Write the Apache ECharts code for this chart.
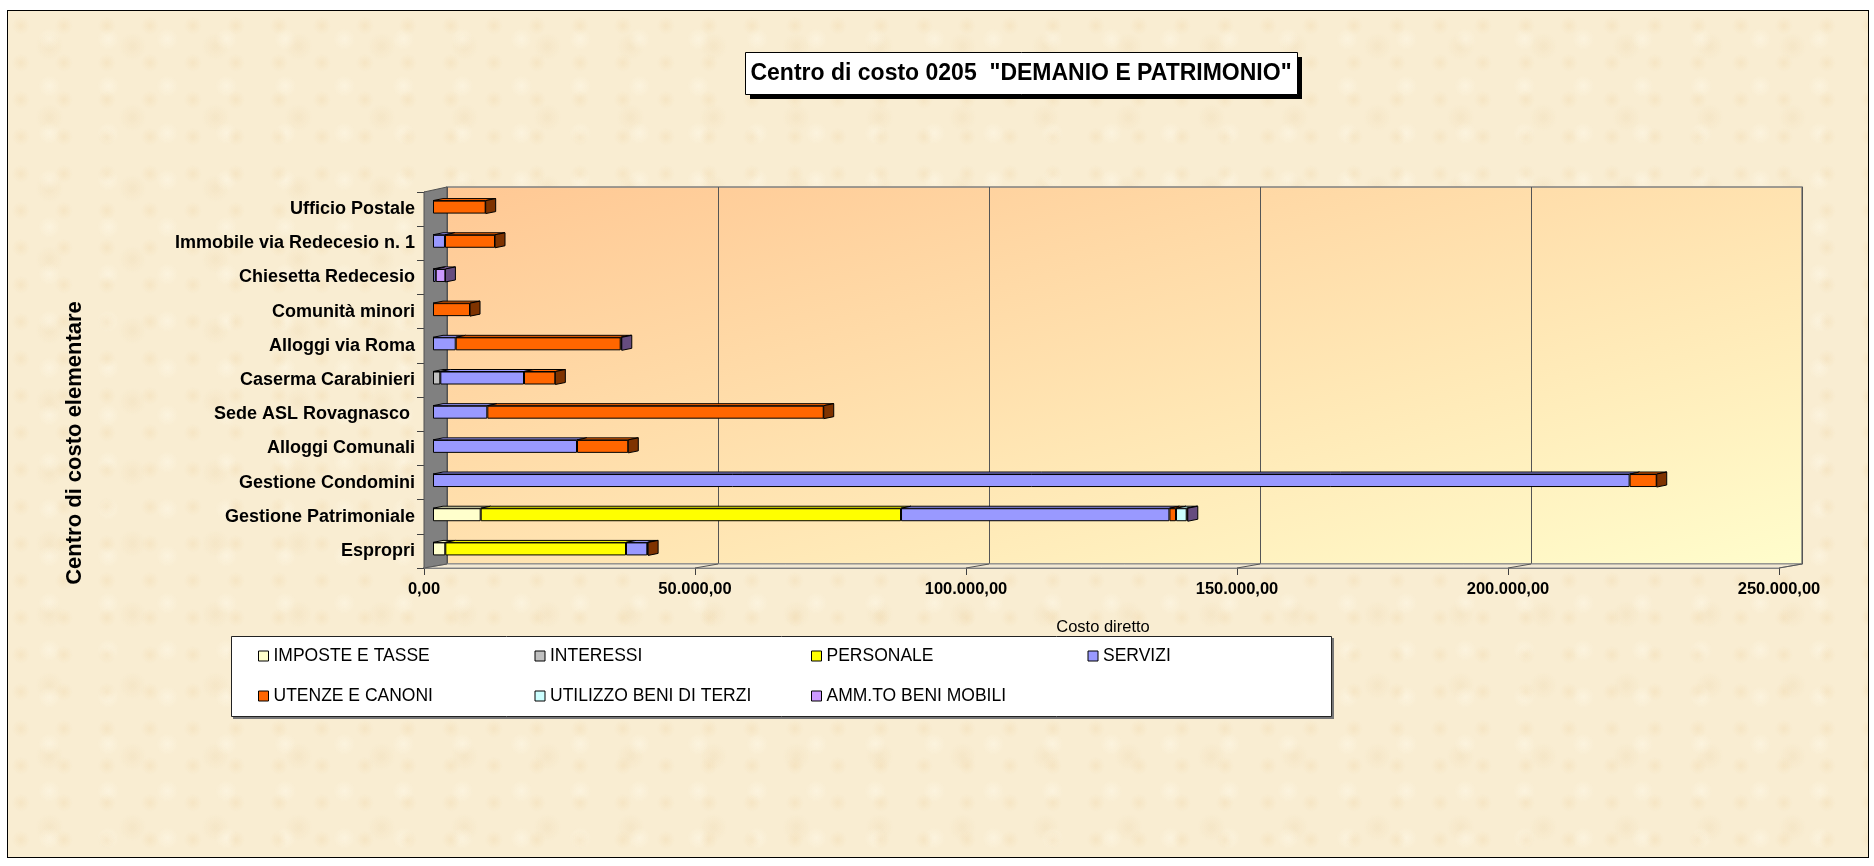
<!DOCTYPE html>
<html>
<head>
<meta charset="utf-8">
<script src="https://cdn.jsdelivr.net/npm/echarts@6/dist/echarts.min.js"></script>
<style>
  html, body { margin: 0; padding: 0; background: #fff; }
  /* cornice con sfondo "pergamena" */
  #frame { position: absolute; left: 7px; top: 10px; width: 1860px; height: 846px;
           border: 1px solid #000; background-color: #f9edd2;
           background-image:
             radial-gradient(circle at 30% 40%, rgba(240,215,170,0.35) 0, rgba(240,215,170,0) 9px),
             radial-gradient(circle at 70% 60%, rgba(255,250,235,0.45) 0, rgba(255,250,235,0) 11px),
             radial-gradient(circle at 50% 50%, rgba(235,210,165,0.25) 0, rgba(235,210,165,0) 14px);
           background-size: 43px 37px, 59px 47px, 83px 71px; }
  #main { position: absolute; left: 0; top: 0; width: 1874px; height: 866px; }
</style>
</head>
<body>
<div id="frame"></div>
<div id="main"></div>
<script>
// categorie dal basso verso l'alto (ordine Excel)
const categories = [
  'Espropri', 'Gestione Patrimoniale', 'Gestione Condomini', 'Alloggi Comunali',
  'Sede ASL Rovagnasco ', 'Caserma Carabinieri', 'Alloggi via Roma', 'Comunità minori',
  'Chiesetta Redecesio', 'Immobile via Redecesio n. 1', 'Ufficio Postale'
];

// valori (euro)
const imposte   = [2270, 8800, 0, 0, 0, 0, 0, 0, 0, 0, 0];
const interessi = [0, 0, 0, 0, 0, 1350, 0, 0, 0, 0, 0];
const personale = [33340, 77550, 0, 0, 0, 0, 0, 0, 0, 0, 0];
const servizi   = [3930, 49520, 220780, 26570, 10020, 15440, 4190, 0, 500, 2210, 0];
const utenze    = [150, 1220, 5000, 9460, 62070, 5780, 30440, 6830, 0, 9230, 9720];
const utilizzo  = [0, 1970, 0, 0, 0, 0, 0, 0, 0, 0, 0];
const ammto     = [0, 200, 0, 0, 0, 0, 200, 0, 1790, 0, 0];

const xTicks = [0, 50000, 100000, 150000, 200000, 250000];

const seriesList = [
  { name: 'IMPOSTE E TASSE',        values: imposte,   color: '#FFFFCC' },
  { name: 'INTERESSI',              values: interessi, color: '#C0C0C0' },
  { name: 'PERSONALE',              values: personale, color: '#FFFF00' },
  { name: 'SERVIZI',                values: servizi,   color: '#9999FF' },
  { name: 'UTENZE E CANONI',        values: utenze,    color: '#FF6600' },
  { name: 'UTILIZZO BENI DI TERZI', values: utilizzo,  color: '#CCFFFF' },
  { name: 'AMM.TO BENI MOBILI',     values: ammto,     color: '#CC99FF' }
];

// colore del lato (faccia in ombra) = metà luminosità
function darker(hex) {
  const n = parseInt(hex.slice(1), 16);
  const r = ((n >> 16) & 255) >> 1, g = ((n >> 8) & 255) >> 1, b = (n & 255) >> 1;
  return 'rgb(' + r + ',' + g + ',' + b + ')';
}

// formato italiano 250.000,00
function fmtIt(v) {
  return String(Math.round(v)).replace(/\B(?=(\d{3})+(?!\d))/g, '.') + ',00';
}

const FONT = 'Liberation Sans, Arial, sans-serif';

// piani della finta prospettiva 3D
const BACK  = { left: 447, top: 187, width: 1355, height: 377 };
const FRONT = { left: 424, top: 192, width: 1355, height: 376 };
const BARS  = { left: 433, top: 190, width: 1355, height: 376 };
const BAR_H = 13, DX = 10, DY = -2;

const fb = FRONT.top + FRONT.height, bb = BACK.top + BACK.height;

const chart = echarts.init(document.getElementById('main'));

const option = {
  animation: false,
  backgroundColor: 'transparent',
  grid: [
    { // parete di fondo
      left: BACK.left, top: BACK.top, width: BACK.width, height: BACK.height,
      show: true, borderColor: '#808080', borderWidth: 1.5,
      backgroundColor: new echarts.graphic.LinearGradient(0, 0, 0.144, 1.855, [
        { offset: 0, color: '#FFC894' },
        { offset: 1, color: '#FFFDCC' }
      ])
    },
    { left: FRONT.left, top: FRONT.top, width: FRONT.width, height: FRONT.height },
    { left: BARS.left, top: BARS.top, width: BARS.width, height: BARS.height }
  ],
  xAxis: [
    {
      gridIndex: 0, type: 'value', min: 0, max: 250000, interval: 50000,
      axisLine: { show: false }, axisTick: { show: false }, axisLabel: { show: false },
      splitLine: { show: true, lineStyle: { color: '#555', width: 1 } }
    },
    {
      gridIndex: 1, type: 'value', min: 0, max: 250000, interval: 50000,
      axisLine: { show: true, lineStyle: { color: '#707070', width: 2 } },
      axisTick: { show: true, length: 7, lineStyle: { color: '#404040' } },
      splitLine: { show: false },
      axisLabel: {
        margin: 13, formatter: fmtIt, color: '#000',
        fontFamily: FONT, fontWeight: 'bold', fontSize: 16.5
      }
    },
    {
      gridIndex: 2, type: 'value', min: 0, max: 250000, interval: 50000, show: false
    }
  ],
  yAxis: [
    { gridIndex: 0, type: 'category', data: categories, show: false },
    {
      gridIndex: 1, type: 'category', data: categories,
      axisLine: { show: true, lineStyle: { color: '#404040', width: 1 } },
      axisTick: { show: true, length: 7, lineStyle: { color: '#404040' } },
      axisLabel: {
        margin: 9, color: '#000', fontFamily: FONT, fontWeight: 'bold', fontSize: 18
      }
    },
    { gridIndex: 2, type: 'category', data: categories, show: false }
  ],
  legend: {
    data: seriesList.map(s => s.name),
    left: 258, top: 636, width: 1110, padding: 0,
    itemWidth: 10, itemHeight: 10, itemGap: 0, icon: 'rect',
    itemStyle: { borderColor: '#000', borderWidth: 1 },
    textStyle: { fontFamily: FONT, fontSize: 17.5, color: '#000', width: 261, lineHeight: 40 }
  },
  series: seriesList.map(s => ({
    name: s.name, type: 'bar', stack: 'costo',
    xAxisIndex: 2, yAxisIndex: 2, barWidth: BAR_H,
    itemStyle: { color: s.color, borderColor: '#000', borderWidth: 1 },
    data: s.values.map(v => (v ? v : '-'))
  })).concat([{
    name: 'faccia3d', type: 'custom', xAxisIndex: 2, yAxisIndex: 2, z: 3,
    encode: { x: 0, y: 1 }, clip: false,
    data: categories.map((c, i) => [0, i]),
    renderItem: function (params, api) {
      const idx = api.value(1);
      const yc = api.coord([0, idx])[1];
      const yTop = yc - BAR_H / 2, yBot = yc + BAR_H / 2;
      const children = [];
      let cum = 0, last = null;
      seriesList.forEach(s => {
        const v = s.values[idx];
        if (!v) return;
        const x0 = api.coord([cum, idx])[0];
        cum += v;
        const x1 = api.coord([cum, idx])[0];
        children.push({
          type: 'polygon',
          shape: { points: [[x0, yTop], [x1, yTop], [x1 + DX, yTop + DY], [x0 + DX, yTop + DY]] },
          style: { fill: s.color, stroke: '#000', lineWidth: 1 }
        });
        last = { x1: x1, color: darker(s.color) };
      });
      if (last) {
        children.push({
          type: 'polygon',
          shape: { points: [[last.x1, yTop], [last.x1 + DX, yTop + DY], [last.x1 + DX, yBot + DY], [last.x1, yBot]] },
          style: { fill: last.color, stroke: '#000', lineWidth: 1 }
        });
      }
      return { type: 'group', children: children };
    }
  }]),
  graphic: [
    // parete sinistra
    {
      type: 'polygon', id: 'leftWall', z: 1,
      shape: { points: [[FRONT.left, FRONT.top], [BACK.left, BACK.top], [BACK.left, bb], [FRONT.left, fb]] },
      style: { fill: '#808080', stroke: '#505050', lineWidth: 1 }
    },
    // pavimento
    {
      type: 'polygon', id: 'floor', z: 1,
      shape: { points: [[FRONT.left, fb], [FRONT.left + FRONT.width, fb], [BACK.left + BACK.width, bb], [BACK.left, bb]] },
      style: { fill: '#F3E9D3', stroke: '#909090', lineWidth: 1 }
    },
    // titolo
    {
      type: 'rect', id: 'titleShadow', z: 1,
      shape: { x: 750, y: 57, width: 552, height: 42 },
      style: { fill: '#000' }
    },
    {
      type: 'rect', id: 'titleBox', z: 1,
      shape: { x: 745.5, y: 52.5, width: 552, height: 42 },
      style: { fill: '#fff', stroke: '#000', lineWidth: 1 }
    },
    {
      type: 'text', id: 'titleText', z: 2, x: 1021, y: 74,
      style: {
        text: 'Centro di costo 0205  "DEMANIO E PATRIMONIO"',
        fontFamily: FONT, fontWeight: 'bold', fontSize: 23, fill: '#000',
        align: 'center', verticalAlign: 'middle'
      }
    },
    // titolo asse verticale
    {
      type: 'text', id: 'yName', x: 75, y: 443, rotation: Math.PI / 2,
      style: {
        text: 'Centro di costo elementare',
        fontFamily: FONT, fontWeight: 'bold', fontSize: 22, fill: '#000',
        align: 'center', verticalAlign: 'middle'
      }
    },
    // titolo asse orizzontale
    {
      type: 'text', id: 'xName', x: 1103, y: 627,
      style: {
        text: 'Costo diretto',
        fontFamily: FONT, fontSize: 16.5, fill: '#000',
        align: 'center', verticalAlign: 'middle'
      }
    },
    // riquadro legenda
    {
      type: 'rect', id: 'legendShadow', z: 0,
      shape: { x: 233, y: 638, width: 1101, height: 81 },
      style: { fill: '#777' }
    },
    {
      type: 'rect', id: 'legendBox', z: 0,
      shape: { x: 231.5, y: 636.5, width: 1100, height: 80 },
      style: { fill: '#fff', stroke: '#222', lineWidth: 1 }
    }
  ]
};

chart.setOption(option);

// linee oblique sul pavimento, dai tick frontali alle linee della parete di fondo
const floorLines = xTicks.map((v, i) => {
  const fx = chart.convertToPixel({ xAxisIndex: 1 }, v);
  const bx = chart.convertToPixel({ xAxisIndex: 0 }, v);
  return {
    type: 'line', id: 'floorLine' + i, z: 1,
    shape: { x1: fx, y1: fb, x2: bx, y2: bb },
    style: { stroke: '#555', lineWidth: 1 }
  };
});
chart.setOption({ graphic: floorLines });

window.addEventListener('resize', () => chart.resize());
</script>
</body>
</html>
